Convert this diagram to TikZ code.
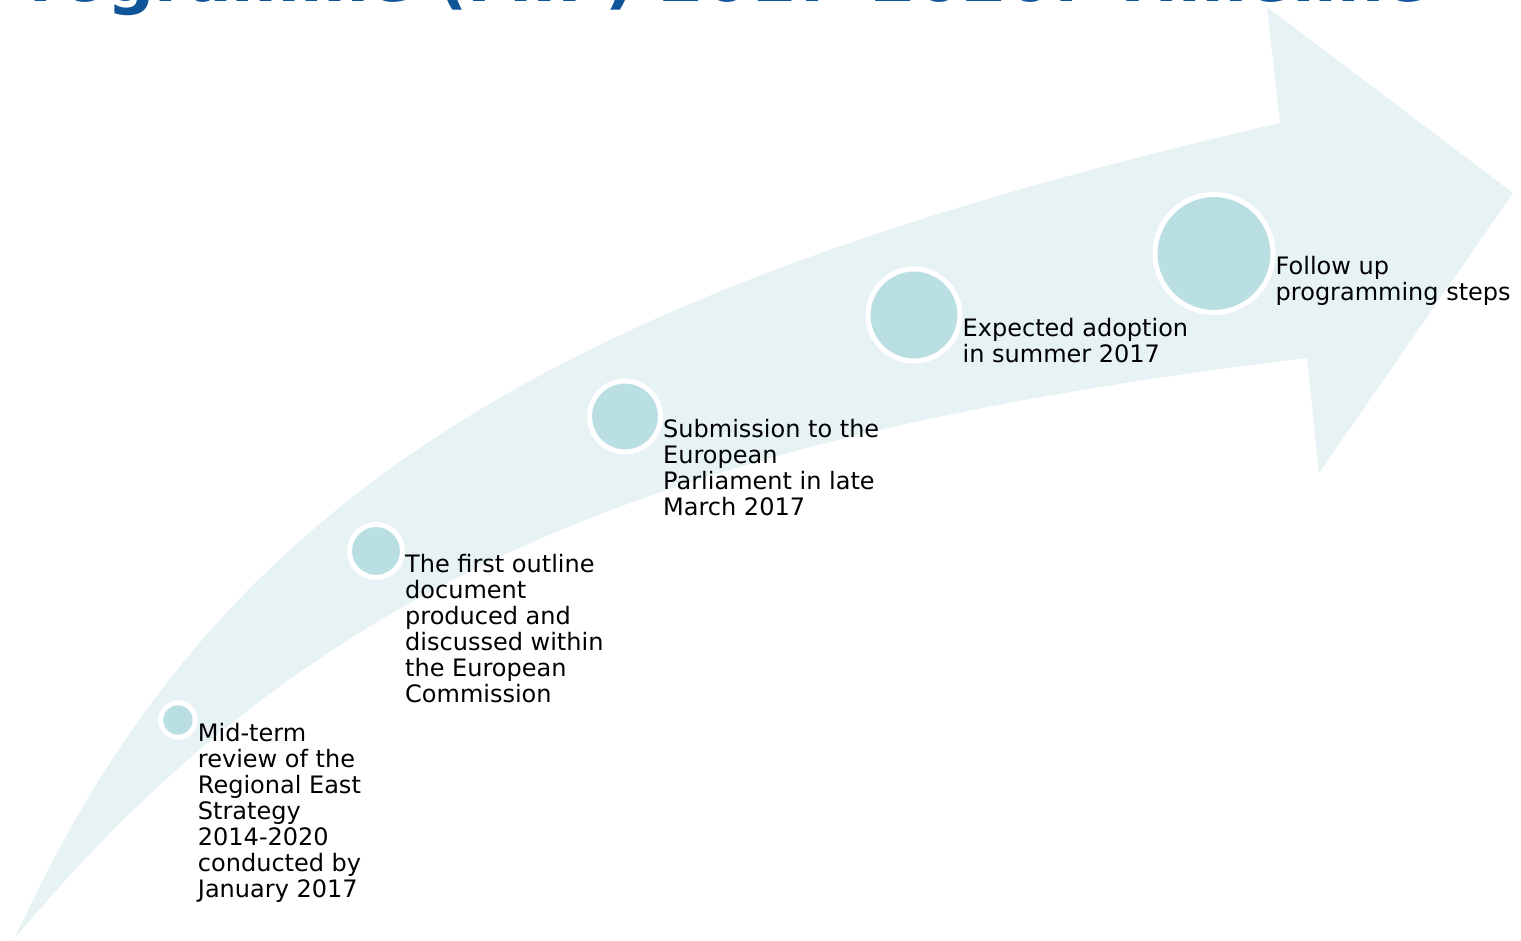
\documentclass[tikz,border=0pt]{standalone}
\usepackage{fontspec}
\setmainfont{DejaVu Sans}
\definecolor{arrowfill}{RGB}{231,242,244}
\definecolor{dotfill}{RGB}{185,223,227}
\definecolor{titleblue}{RGB}{17,85,153}

\begin{document}
\begin{tikzpicture}[x=1pt,y=-1pt]
\tikzstyle{stepdot}=[draw=white,line width=5pt,fill=dotfill,shape=circle,inner sep=0pt];
\tikzstyle{steptext}=[anchor=north west,inner sep=0pt,align=left,font=\fontsize{24}{26}\selectfont];
\useasboundingbox (0,0) rectangle (1521,940);
\clip (0,0) rectangle (1521,940);
% title, cut off by the top edge
\node[anchor=base west,inner sep=0pt,text=titleblue,font=\fontsize{66}{70}\selectfont\bfseries] (title) at (-19,1.5) {Programme (MIP) 2017-2020: Timeline};
% the bent arrow
\fill[arrowfill] (15,938) .. controls (212,505) and (541,293) .. (1280,123)
  -- (1267,7) -- (1513,193) -- (1319,473) -- (1307,358)
  .. controls (642,438) and (307,589) .. (15,938) -- cycle;
% steps
\node[stepdot,minimum size=34.5pt] (c1) at (178,720) {};
\node[stepdot,minimum size=53pt] (c2) at (376,551) {};
\node[stepdot,minimum size=71pt] (c3) at (625,416.5) {};
\node[stepdot,minimum size=92pt] (c4) at (914,315) {};
\node[stepdot,minimum size=118pt] (c5) at (1214,253.5) {};
\node[steptext] (t1) at ([yshift=-3pt]c1.east) {Mid-term\\review of the\\Regional East\\Strategy\\2014-2020\\conducted by\\January 2017};
\node[steptext] (t2) at ([yshift=-3pt]c2.east) {The first outline\\document\\produced and\\discussed within\\the European\\Commission};
\node[steptext] (t3) at ([yshift=-3pt]c3.east) {Submission to the\\European\\Parliament in late\\March 2017};
\node[steptext] (t4) at ([yshift=-3pt]c4.east) {Expected adoption\\in summer 2017};
\node[steptext] (t5) at ([yshift=-3pt]c5.east) {Follow up\\programming steps};
\end{tikzpicture}
\end{document}
